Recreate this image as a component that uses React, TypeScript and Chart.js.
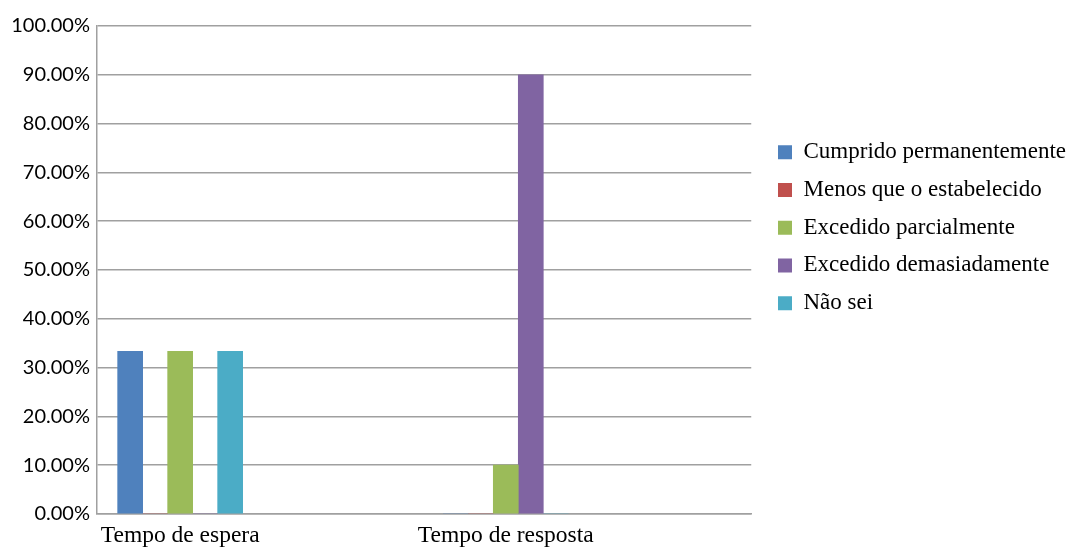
import React, { useEffect, useRef } from "react";
import { Chart, registerables } from "chart.js";

Chart.register(...registerables);

const categories = ["Tempo de espera", "Tempo de resposta"];
const seriesNames = [
  "Cumprido permanentemente",
  "Menos que o estabelecido",
  "Excedido parcialmente",
  "Excedido demasiadamente",
  "Não sei",
];
const cumpridoPermanentemente = [33.33, 0];
const menosQueOEstabelecido = [0, 0];
const excedidoParcialmente = [33.33, 10];
const excedidoDemasiadamente = [0, 90];
const naoSei = [33.33, 0];
const yTicks = [0, 10, 20, 30, 40, 50, 60, 70, 80, 90, 100];

const seriesValues = [
  cumpridoPermanentemente,
  menosQueOEstabelecido,
  excedidoParcialmente,
  excedidoDemasiadamente,
  naoSei,
];
const seriesColors = ["#4F81BD", "#C0504D", "#9BBB59", "#8064A2", "#4BACC6"];

const W = 1070;
const H = 548;
const serif = "'Liberation Serif', 'Times New Roman', serif";

export default function App() {
  const ref = useRef<HTMLCanvasElement | null>(null);

  useEffect(() => {
    if (!ref.current) return;
    const chart = new Chart(ref.current, {
      type: "bar",
      data: {
        datasets: seriesNames.map((name, i) => ({
          label: name,
          data: seriesValues[i].map((v, c) => ({ x: c, y: v })),
          backgroundColor: seriesColors[i],
          borderWidth: 0,
          barThickness: 25,
          yAxisID: "y",
        })),
      },
      options: {
        responsive: false,
        maintainAspectRatio: false,
        animation: false,
        layout: { padding: { top: 26, left: 0, right: -6, bottom: 0 } },
        plugins: {
          tooltip: { enabled: false },
          legend: {
            position: "right",
            align: "start",
            fullSize: false,
            maxWidth: 400,
            title: {
              display: true,
              text: " ",
              padding: { top: 79.5, bottom: 6 },
              font: { size: 12 },
            },
            labels: {
              boxWidth: 14,
              boxHeight: 14,
              padding: 14.75,
              color: "#000",
              font: { family: serif, size: 23 },
            },
          },
        },
        scales: {
          x: {
            type: "linear",
            offset: false,
            min: -0.2554,
            max: 1.7538,
            grid: { display: false, drawTicks: false, offset: false },
            border: { display: true, color: "#a0a0a0", width: 1.5 },
            afterBuildTicks: (s: any) => {
              s.ticks = categories.map((_, i) => ({ value: i }));
            },
            afterFit: (s: any) => {
              s.height = 34;
            },
            ticks: {
              padding: 8,
              color: "#000",
              font: { family: serif, size: 23.5 },
              autoSkip: false,
              maxRotation: 0,
              callback: (v: any) => categories[v as number] ?? "",
            },
          },
          y: {
            min: 0,
            max: 100,
            grid: { color: "#a0a0a0", lineWidth: 1.5, drawTicks: false },
            border: { display: true, color: "#a0a0a0", width: 1.5 },
            afterBuildTicks: (s: any) => {
              s.ticks = yTicks.map((v) => ({ value: v }));
            },
            afterFit: (s: any) => {
              s.width = 97;
            },
            ticks: {
              padding: 7,
              color: "#000",
              font: { family: "Lato, 'Open Sans', sans-serif", size: 20 },
              callback: (v: any) => Number(v).toFixed(2) + "%",
            },
          },
          gap: {
            position: "right",
            display: true,
            grid: { display: false, drawTicks: false },
            border: { display: false },
            ticks: { display: false },
            afterFit: (s: any) => {
              s.width = 12;
            },
          },
        },
      },
    });
    return () => chart.destroy();
  }, []);

  return (
    <div style={{ position: "fixed", left: 0, top: 0, width: W, height: H, background: "#fff" }}>
      <canvas ref={ref} width={W} height={H} style={{ display: "block" }} />
    </div>
  );
}
